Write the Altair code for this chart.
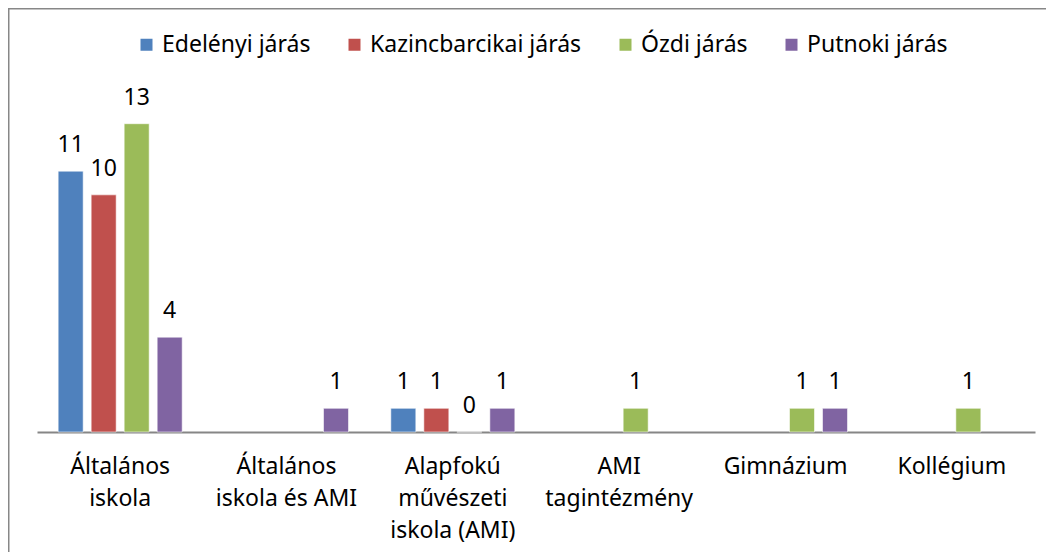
import altair as alt
import pandas as pd

categories = [
    "Általános\niskola",
    "Általános\niskola és AMI",
    "Alapfokú\nművészeti\niskola (AMI)",
    "AMI\ntagintézmény",
    "Gimnázium",
    "Kollégium",
]
series = ["Edelényi járás", "Kazincbarcikai járás", "Ózdi járás", "Putnoki járás"]
colors = ["#4F81BD", "#C0504D", "#9BBB59", "#8064A2"]

edelenyi = [11, None, 1, None, None, None]
kazincbarcikai = [10, None, 1, None, None, None]
ozdi = [13, None, 0, 1, 1, 1]
putnoki = [4, 1, 1, None, 1, None]

rows = []
for s, vals in zip(series, [edelenyi, kazincbarcikai, ozdi, putnoki]):
    for c, v in zip(categories, vals):
        if v is not None:
            rows.append({"kategoria": c, "jaras": s, "ertek": v})
df = pd.DataFrame(rows)

FONT = "Noto Sans"
FS = 23

x_enc = alt.X(
    "kategoria:N",
    sort=categories,
    scale=alt.Scale(domain=categories, paddingInner=0, paddingOuter=0),
    axis=alt.Axis(
        title=None,
        labelAngle=0,
        ticks=False,
        domainColor="#868686",
        domainWidth=2,
        labelFont=FONT,
        labelFontSize=FS,
        labelColor="#000000",
        labelPadding=23,
        labelLineHeight=32,
        labelLimit=300,
        labelExpr="split(datum.label, '\\n')",
        grid=False,
    ),
)
xoff_enc = alt.XOffset(
    "jaras:N",
    sort=series,
    scale=alt.Scale(domain=series, paddingInner=0.2424, paddingOuter=0.641),
)
y_enc = alt.Y("ertek:Q", scale=alt.Scale(domain=[0, 14], nice=False), axis=None)

base = alt.Chart(df)

bars = base.mark_bar(stroke="#ffffff", strokeWidth=0.8, strokeOpacity=0.7).encode(
    x=x_enc,
    xOffset=xoff_enc,
    y=y_enc,
    color=alt.Color(
        "jaras:N",
        sort=series,
        scale=alt.Scale(domain=series, range=colors),
        legend=alt.Legend(
            title=None,
            orient="none",
            legendX=98,
            legendY=-67,
            direction="horizontal",
            columns=4,
            columnPadding=32,
            symbolType="square",
            symbolSize=144,
            symbolStrokeWidth=0,
            labelOffset=4,
            labelLimit=400,
            labelFont=FONT,
            labelFontSize=FS,
            labelColor="#000000",
            padding=0,
        ),
    ),
)

labels = base.mark_text(
    baseline="alphabetic", dy=-19, font=FONT, fontSize=FS, color="#000000"
).encode(x=x_enc, xOffset=xoff_enc, y=y_enc, text=alt.Text("ertek:Q"))

frame = alt.Chart(pd.DataFrame({"k": [0]})).mark_rect(
    fillOpacity=0, stroke="#878787", strokeWidth=1.5
).encode(
    x=alt.value(-28.25),
    x2=alt.value(1100),
    y=alt.value(-91.25),
    y2=alt.value(700),
)

chart = (
    alt.layer(frame, bars, labels)
    .properties(
        width=998,
        height=332,
        padding={"left": 29, "top": 92, "right": 11, "bottom": 120},
        autosize=alt.AutoSizeParams(type="none"),
    )
    .configure(font=FONT)
    .configure_view(strokeWidth=0, stroke="transparent")
)

chart.save("out.html", embed_options={"renderer": "svg", "actions": False})
